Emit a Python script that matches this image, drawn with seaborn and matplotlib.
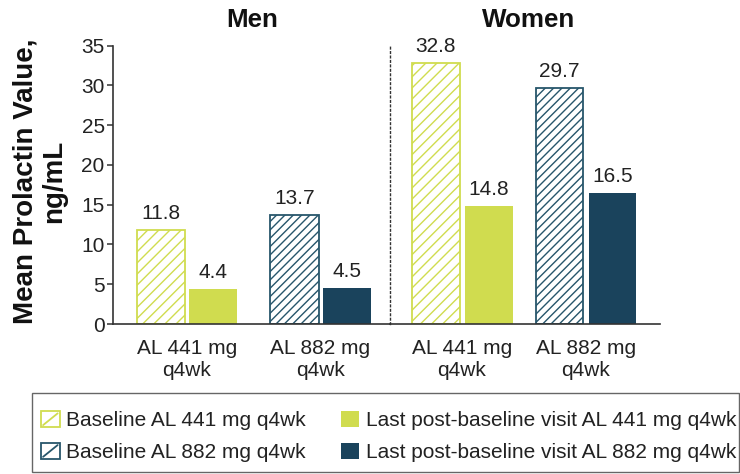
import matplotlib
matplotlib.use("Agg")
import matplotlib.pyplot as plt
import seaborn as sns
import pandas as pd
from matplotlib.patches import Patch, Rectangle
from matplotlib.lines import Line2D
from matplotlib.legend_handler import HandlerPatch

# ---- data ----
groups = ["Men", "Women"]
doses = ["AL 441 mg\nq4wk", "AL 882 mg\nq4wk"]
visits = ["Baseline", "Last post-baseline visit"]
men_baseline = [11.8, 13.7]
men_last = [4.4, 4.5]
women_baseline = [32.8, 29.7]
women_last = [14.8, 16.5]
legend_labels = ["Baseline AL 441 mg q4wk", "Baseline AL 882 mg q4wk",
                 "Last post-baseline visit AL 441 mg q4wk",
                 "Last post-baseline visit AL 882 mg q4wk"]

LIME = "#d0dc4f"
NAVY = "#1a435c"
NAVY_EDGE = "#27566b"
DARK = "#333333"

sns.set_theme(style="white")
plt.rcParams['font.family'] = ['Liberation Sans', 'DejaVu Sans']
plt.rcParams['hatch.linewidth'] = 1.0

fig = plt.figure(figsize=(7.4, 4.74), dpi=100)
axM = fig.add_axes([113/740, 150/474, 277/740, 278.5/474])
axW = fig.add_axes([390/740, 150/474, 270/740, 278.5/474], sharey=axM)

def draw(ax, base, last, width, gap):
    df = pd.DataFrame({
        "dose": doses + doses,
        "visit": [visits[0]] * len(doses) + [visits[1]] * len(doses),
        "value": base + last,
    })
    sns.barplot(data=df, x="dose", y="value", hue="visit", order=doses,
                hue_order=visits, palette=["white", "gray"], width=width,
                gap=gap, errorbar=None, legend=False, ax=ax)
    # patches ordered: baseline(441, 882), last(441, 882)
    styles = [
        dict(facecolor="white", edgecolor=LIME, hatch="///", linewidth=1.3),
        dict(facecolor="white", edgecolor=NAVY_EDGE, hatch="////", linewidth=1.3),
        dict(facecolor=LIME, edgecolor="none", hatch=None, linewidth=0),
        dict(facecolor=NAVY, edgecolor="none", hatch=None, linewidth=0),
    ]
    for p, st in zip(ax.patches, styles):
        p.set_facecolor(st["facecolor"])
        p.set_edgecolor(st["edgecolor"])
        p.set_hatch(st["hatch"])
        p.set_linewidth(st["linewidth"])
    for c in ax.containers:
        ax.bar_label(c, fmt="%.1f", padding=5, fontsize=15, color="#222222")
    ax.set_xlabel("")
    ax.set_ylabel("")
    ax.spines["top"].set_visible(False)
    ax.spines["right"].set_visible(False)
    ax.spines["bottom"].set_color(DARK)
    ax.spines["bottom"].set_linewidth(1.2)
    ax.tick_params(axis="x", bottom=False, labelsize=15, pad=5,
                   labelcolor="#222222")

draw(axM, men_baseline, men_last, 0.78, 0.077)
draw(axW, women_baseline, women_last, 0.855, 0.095)

axM.set_xlim(-0.554, 1.52)
axW.set_xlim(-0.581, 1.597)
axM.set_ylim(0, 35)
axM.set_yticks(range(0, 36, 5))
axM.spines["left"].set_color(DARK)
axM.spines["left"].set_linewidth(1.2)
axM.tick_params(axis="y", left=True, length=4, width=1.1, color=DARK,
                labelsize=15, pad=2, labelcolor="#222222")
axW.spines["left"].set_linestyle((0, (1.2, 2)))
axW.spines["left"].set_color(DARK)
axW.spines["left"].set_linewidth(1.0)
axW.tick_params(axis="y", left=False, labelleft=False)

for lbl in axM.get_xticklabels() + axW.get_xticklabels():
    lbl.set_linespacing(1.15)

fig.text(40/740, 1 - 181/474, "Mean Prolactin Value,\nng/mL", rotation=90,
         ha="center", va="center", fontsize=20, fontweight="bold",
         color="#111111", linespacing=1.15)
fig.text(252/740, 1 - 27/474, groups[0], ha="center", va="baseline",
         fontsize=18.7, fontweight="bold", color="#111111")
fig.text(529/740, 1 - 27/474, groups[1], ha="center", va="baseline",
         fontsize=18.7, fontweight="bold", color="#111111")

# legend frame
fig.patches.append(Rectangle((32/740, 1 - 472/474), (739 - 32)/740,
                             (472 - 393)/474, transform=fig.transFigure,
                             facecolor="none", edgecolor="#666666",
                             linewidth=1.0, zorder=0))


class DiagHandler(HandlerPatch):
    def create_artists(self, legend, orig_handle, xdescent, ydescent,
                       width, height, fontsize, trans):
        col = orig_handle.get_edgecolor()
        x0, y0 = -xdescent, -ydescent
        rect = Rectangle((x0, y0), width, height, facecolor="white",
                         edgecolor=col, linewidth=1.3, transform=trans)
        diag = Line2D([x0 + 1.5, x0 + width - 1.5],
                      [y0 + 1.5, y0 + height - 1.5], color=col,
                      linewidth=1.3, transform=trans)
        return [rect, diag]


handles = [
    Patch(facecolor="white", edgecolor=LIME),
    Patch(facecolor="white", edgecolor=NAVY_EDGE),
    Patch(facecolor=LIME, edgecolor="none"),
    Patch(facecolor=NAVY, edgecolor="none"),
]
diag = DiagHandler()
leg = fig.legend(handles, legend_labels, ncol=2, loc="upper left",
                 bbox_to_anchor=(41/740, 1 - 416/474, (736 - 41)/740, 0.01),
                 mode="expand", frameon=False,
                 handler_map={handles[0]: diag, handles[1]: diag},
                 fontsize=15, handlelength=0.9, handleheight=0.8,
                 handletextpad=0.3, labelspacing=0.6, borderaxespad=0,
                 borderpad=0)
for t in leg.get_texts():
    t.set_color("#222222")

fig.savefig("out.png", dpi=100)
